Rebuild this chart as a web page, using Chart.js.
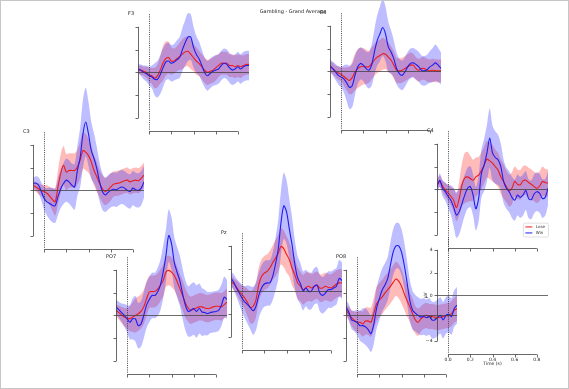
<!DOCTYPE html>
<html>
<head>
<meta charset="utf-8">
<title>Gambling - Grand Average</title>
<script src="https://cdn.jsdelivr.net/npm/chart.js@4.4.1/dist/chart.umd.min.js"></script>
<style>
  html, body { margin: 0; padding: 0; background: #fff; }
  #fig { position: relative; width: 569px; height: 389px; overflow: hidden; background: #fff; }
  #fig canvas { position: absolute; }
  #frame { position: absolute; left: 0; top: 0; width: 567px; height: 387px; border: 1px solid #c6c6c6; pointer-events: none; }
</style>
</head>
<body>
<div id="fig">
  <canvas id="title-canvas" width="569" height="389" style="left:0;top:0;width:569px;height:389px"></canvas>
  <div id="frame"></div>
</div>
<script>
// ── DATA ──────────────────────────────────
// time (s), one sample every 25 ms
const times = [-0.1, -0.075, -0.05, -0.025, 0, 0.025, 0.05, 0.075, 0.1, 0.125,
  0.15, 0.175, 0.2, 0.225, 0.25, 0.275, 0.3, 0.325, 0.35, 0.375,
  0.4, 0.425, 0.45, 0.475, 0.5, 0.525, 0.55, 0.575, 0.6, 0.625,
  0.65, 0.675, 0.7, 0.725, 0.75, 0.775, 0.8, 0.825, 0.85, 0.875, 0.9];

const conditions = ['Lose', 'Win'];
const yTicks = [-4, -2, 0, 2, 4];
const yTickLabels = ['\u22124', '\u22122', '0', '2', '4'];
const xTicks = [0, 0.2, 0.4, 0.6, 0.8];
const xTickLabels = ['0.0', '0.2', '0.4', '0.6', '0.8'];

// mean (µV) and half-width of the shaded band, per channel and condition
const f3Lose = [0.2,0.2,0.1,0.0,-0.2,-0.3,-0.5,-0.3,0.2,0.8,1.2,1.3,1.0,1.0,1.2,1.4,1.6,1.8,1.85,1.6,1.3,1.0,0.8,0.5,0.2,0.0,0.1,0.2,0.4,0.6,0.8,0.8,0.8,0.6,0.6,0.5,0.6,0.5,0.6,0.7,0.7];
const f3LoseErr = [0.3,0.4,0.4,0.5,0.6,0.7,0.9,1.0,1.2,1.5,1.5,1.4,1.2,1.1,1.1,1.2,1.3,1.3,1.3,1.3,1.2,1.2,1.1,1.1,1.1,1.1,1.1,1.1,1.1,1.0,1.0,1.0,1.0,1.0,1.0,1.0,1.0,1.0,0.9,0.9,0.9];
const f3Win = [0.3,0.2,0.0,-0.1,-0.3,-0.4,-0.6,-0.6,-0.2,0.4,0.9,1.0,0.8,0.9,1.1,1.3,2.0,2.6,3.1,3.1,2.2,1.6,1.2,0.6,0.0,-0.3,-0.1,0.1,0.2,0.3,0.6,0.8,0.7,0.4,0.2,0.3,0.5,0.3,0.5,0.6,0.6];
const f3WinErr = [0.4,0.5,0.6,0.7,0.8,1.0,1.4,1.6,1.7,1.7,1.6,1.6,1.6,1.6,1.7,1.8,1.9,2.0,2.1,2.0,1.8,1.6,1.5,1.4,1.3,1.3,1.3,1.3,1.3,1.3,1.3,1.3,1.3,1.3,1.3,1.3,1.3,1.3,1.3,1.3,1.3];

const f4Lose = [0.4,0.25,0,-0.15,-0.25,-0.45,-0.65,-0.8,-0.55,-0.05,0.25,0.4,0.45,0.4,0.4,0.7,1.0,1.25,1.4,1.55,1.5,1.25,1.0,0.55,0.1,0.05,0.1,0.25,0.4,0.55,0.55,0.25,0.1,0.25,0.25,0.1,0.05,0.1,0.05,0.05,0.05];
const f4LoseErr = [0.4,0.5,0.5,0.6,0.6,0.8,1.0,1.2,1.4,1.6,1.7,1.7,1.6,1.5,1.4,1.4,1.4,1.4,1.4,1.4,1.3,1.3,1.2,1.2,1.1,1.1,1.1,1.1,1.1,1.1,1.0,1.0,1.0,1.0,1.0,1.0,1.0,1.0,1.0,1.0,1.0];
const f4Win = [0.5,0.25,-0.05,-0.35,-0.5,-0.65,-1.0,-1.4,-1.25,-0.35,0.4,0.7,0.55,0.25,0.1,0.55,1.7,2.7,3.3,3.85,3.3,2.15,1.7,1.1,0.25,-0.2,-0.35,-0.05,0.4,0.7,0.75,0.6,0.4,0.1,0.05,0.15,0.4,0.55,0.75,0.55,0.25];
const f4WinErr = [0.5,0.6,0.7,0.8,0.9,1.2,1.6,1.9,1.9,1.7,1.5,1.4,1.4,1.5,1.6,1.8,2.0,2.2,2.4,2.5,2.4,2.2,1.9,1.6,1.4,1.3,1.3,1.3,1.3,1.3,1.3,1.3,1.3,1.3,1.3,1.3,1.4,1.5,1.6,1.5,1.4];

const c3Lose = [0.45,0.3,0.15,0,-0.1,-0.25,-0.5,-0.8,-1.0,0.3,1.5,2.2,1.6,1.75,1.75,1.75,2.05,2.65,3.5,3.35,3.05,2.5,1.75,1.2,0.6,0.15,-0.1,0.05,0.3,0.55,0.6,0.65,0.75,0.85,0.9,0.75,0.85,0.9,0.85,1.05,1.35];
const c3LoseErr = [0.4,0.4,0.5,0.5,0.6,0.7,0.8,1.0,1.2,1.5,1.7,1.7,1.6,1.5,1.5,1.5,1.5,1.6,1.6,1.6,1.5,1.4,1.3,1.3,1.2,1.2,1.2,1.2,1.2,1.1,1.1,1.1,1.1,1.1,1.1,1.1,1.1,1.1,1.1,1.1,1.1];
const c3Win = [0.6,0.65,0.45,-0.1,-0.7,-1.0,-1.15,-1.3,-1.35,-0.55,0.15,0.6,0.9,0.75,0.45,0.3,1.75,2.9,4.95,6.0,4.95,3.5,2.8,1.9,0.75,-0.1,-0.4,-0.2,0,0.1,0.05,0.2,0.3,0.2,0,-0.1,0.2,0.05,0,0.2,0.75];
const c3WinErr = [0.5,0.6,0.7,0.8,1.0,1.2,1.4,1.5,1.5,1.6,1.7,1.8,1.9,1.9,1.9,2.0,2.2,2.6,3.0,3.0,2.8,2.5,2.2,1.9,1.7,1.6,1.5,1.5,1.5,1.5,1.5,1.5,1.5,1.5,1.5,1.5,1.5,1.5,1.5,1.5,1.4];

const c4Lose = [0.4,0.7,0.3,-0.05,-0.3,-0.6,-0.95,-1.6,-0.8,0.4,1.0,1.1,0.95,0.8,1.1,1.25,1.65,2.15,2.65,2.5,2.3,2.0,1.7,1.1,0.7,0.25,-0.1,0.1,0.7,0.45,0.4,0.75,0.8,0.6,0.45,0.25,0.1,0.3,0.7,0.6,0.55];
const c4LoseErr = [0.4,0.5,0.5,0.6,0.7,0.8,1.0,1.2,1.5,1.9,2.2,2.2,2.0,1.8,1.7,1.6,1.6,1.6,1.6,1.6,1.6,1.5,1.5,1.5,1.5,1.4,1.4,1.4,1.3,1.3,1.3,1.3,1.3,1.3,1.3,1.3,1.3,1.3,1.3,1.2,1.2];
const c4Win = [0.25,0.8,0.1,-0.2,-0.6,-0.95,-1.55,-2.25,-1.95,-1.25,-0.5,0.1,0.25,-0.5,-1.7,-0.8,1.4,2.15,3.2,4.5,3.2,2.8,2.6,2.0,0.7,0.1,-0.2,-0.7,-0.95,-0.5,-0.7,-0.5,-0.1,-0.8,-0.9,-0.4,-0.2,-0.35,-0.8,-0.7,0.1];
const c4WinErr = [0.5,0.6,0.7,0.8,1.0,1.3,1.7,2.0,2.0,1.9,1.8,1.8,1.8,1.8,1.9,2.0,2.1,2.3,2.5,2.6,2.4,2.3,2.2,2.0,1.9,1.8,1.8,1.8,1.8,1.8,1.8,1.8,1.7,1.7,1.7,1.7,1.7,1.7,1.7,1.6,1.5];

const po7Lose = [0.45,0.25,0.05,-0.15,-0.25,-0.3,-0.15,0,0.15,0.35,0.75,1.45,2.05,2.1,2.1,2.3,2.65,3.05,3.8,3.95,3.8,3.5,3.0,2.35,1.75,1.1,0.65,0.45,0.55,0.65,0.75,0.75,0.65,0.6,0.65,0.75,0.8,0.8,0.75,0.95,1.15];
const po7LoseErr = [0.5,0.6,0.7,0.8,0.9,1.1,1.3,1.5,1.5,1.5,1.5,1.5,1.4,1.4,1.4,1.4,1.4,1.4,1.3,1.3,1.3,1.3,1.3,1.3,1.3,1.3,1.2,1.2,1.2,1.2,1.2,1.2,1.2,1.2,1.2,1.2,1.2,1.2,1.2,1.2,1.2];
const po7Win = [0.75,0.5,0.25,0,-0.3,-0.6,-0.3,-0.3,-0.9,-0.75,0,0.9,1.4,1.75,1.75,2.05,2.65,3.8,5.25,7.0,6.3,4.65,3.8,3.05,1.9,0.9,0.35,0.45,0.6,0.35,0.6,0.3,0.25,0.15,0.25,0.3,0.35,0.45,0.9,1.6,1.4];
const po7WinErr = [0.6,0.7,0.8,1.0,1.2,1.5,1.8,2.0,2.0,2.0,2.0,2.0,2.0,2.0,2.0,2.1,2.2,2.3,2.3,2.3,2.3,2.2,2.2,2.2,2.2,2.2,2.2,2.3,2.3,2.3,2.2,2.1,2.0,1.9,1.8,1.8,1.8,1.8,1.8,1.8,1.7];

const pzLose = [0.9,0.65,0.35,0,-0.3,-0.6,-1.0,-1.4,-1.3,-0.75,0.6,1.3,1.6,1.75,2.05,2.5,2.9,3.35,3.95,3.75,3.25,2.8,2.05,1.45,0.75,0.45,0.15,0.35,0.45,0.3,0.45,0.55,0.3,0.3,0.45,0.35,0.3,0.45,0.65,0.75,0.75];
const pzLoseErr = [0.5,0.5,0.6,0.7,0.8,1.0,1.2,1.4,1.5,1.5,1.5,1.5,1.5,1.5,1.5,1.5,1.6,1.6,1.6,1.6,1.6,1.5,1.5,1.4,1.4,1.3,1.3,1.3,1.3,1.2,1.2,1.2,1.2,1.2,1.2,1.2,1.2,1.2,1.2,1.2,1.2];
const pzWin = [1.15,0.8,0.3,-0.15,-0.6,-0.95,-1.15,-1.45,-1.7,-1.3,-0.35,0.3,0.65,0.75,0.75,1.3,2.35,3.65,6.0,7.5,7.0,5.5,4.1,2.4,1.2,0.7,0.05,0.3,0,0.05,0.45,0.55,-0.15,-0.35,-0.15,0.15,0.15,0.3,0.45,1.15,0.95];
const pzWinErr = [0.6,0.7,0.8,1.0,1.2,1.4,1.7,1.9,2.1,2.1,2.0,2.0,2.0,2.0,2.0,2.1,2.3,2.6,2.8,2.9,2.8,2.6,2.4,2.1,1.9,1.8,1.7,1.6,1.6,1.6,1.6,1.6,1.6,1.6,1.6,1.6,1.6,1.6,1.6,1.6,1.6];

const po8Lose = [0.45,0.15,-0.2,-0.45,-0.6,-0.6,-0.75,-0.5,-0.5,-0.6,0.15,1.0,1.35,1.6,1.95,2.25,2.55,2.9,3.2,3.0,2.55,1.9,1.3,0.75,0.15,-0.4,-0.6,-0.3,-0.1,0,-0.1,-0.1,-0.15,-0.2,-0.15,-0.1,-0.03,0,0.15,0.45,0.6];
const po8LoseErr = [0.5,0.6,0.7,0.8,0.9,1.0,1.1,1.2,1.2,1.3,1.4,1.5,1.5,1.5,1.5,1.5,1.5,1.5,1.5,1.5,1.5,1.4,1.4,1.3,1.3,1.2,1.2,1.1,1.1,1.1,1.1,1.1,1.1,1.1,1.1,1.1,1.1,1.1,1.1,1.1,1.1];
const po8Win = [0.75,0.3,-0.4,-0.5,-0.6,-0.9,-0.9,-1.0,-1.25,-1.6,-0.8,0.6,1.45,2.2,2.65,3.2,4.4,5.55,6.1,6.1,5.55,4.4,2.9,1.3,0.45,0.2,0,-0.15,-0.1,-0.2,-0.1,-0.4,-0.4,-0.2,0,-0.4,0,0.1,-0.1,0.6,0.9];
const po8WinErr = [0.6,0.7,0.8,0.9,1.1,1.3,1.5,1.6,1.6,1.6,1.7,1.8,1.9,1.9,1.9,1.9,2.0,2.0,2.0,2.0,2.0,2.0,1.9,1.8,1.7,1.6,1.6,1.6,1.6,1.6,1.6,1.6,1.6,1.6,1.6,1.6,1.6,1.6,1.6,1.6,1.6];


// ── LAYOUT ────────────────────────────────
// x0/y0 = page pixel of t = 0 s and 0 µV for each axes
const panels = [
  { name: 'F3',  x0: 149,   y0: 72.7,  lose: f3Lose,  loseErr: f3LoseErr,  win: f3Win,  winErr: f3WinErr },
  { name: 'F4',  x0: 340.7, y0: 71,    lose: f4Lose,  loseErr: f4LoseErr,  win: f4Win,  winErr: f4WinErr },
  { name: 'C3',  x0: 44,    y0: 190.3, lose: c3Lose,  loseErr: c3LoseErr,  win: c3Win,  winErr: c3WinErr },
  { name: 'C4',  x0: 447.7, y0: 189.3, lose: c4Lose,  loseErr: c4LoseErr,  win: c4Win,  winErr: c4WinErr, legend: true },
  { name: 'PO7', x0: 126.7, y0: 315,   lose: po7Lose, loseErr: po7LoseErr, win: po7Win, winErr: po7WinErr },
  { name: 'Pz',  x0: 241.7, y0: 291.7, lose: pzLose,  loseErr: pzLoseErr,  win: pzWin,  winErr: pzWinErr },
  { name: 'PO8', x0: 356.7, y0: 315,   lose: po8Lose, loseErr: po8LoseErr, win: po8Win, winErr: po8WinErr },
  { name: '',    x0: 447.7, y0: 295.7, scaleAxes: true }
];

const X_MIN = -0.1, X_MAX = 0.9;
const Y_MIN = -9, Y_MAX = 11;      // room for the bands
const AX_LIM = 5.1;                // visible axes limit (µV)
const PX_PER_S = 111, PX_PER_UV = 11.4;
const PAD = { left: 30, right: 6, top: 4, bottom: 4 };

const FONT = '"DejaVu Sans", "Liberation Sans", sans-serif';
const COLORS = {
  Lose: { line: 'rgb(238,28,28)', band: 'rgba(255,40,40,0.32)' },
  Win:  { line: 'rgb(30,30,240)', band: 'rgba(50,50,255,0.32)' }
};


// ── AXES DECORATION PLUGIN ────────────────
// trimmed spines, zero line, stimulus-onset line, labels
const axesDeco = {
  id: 'axesDeco',
  afterDatasetsDraw(chart, args, opts) {
    const ctx = chart.ctx;
    const px = v => chart.scales.x.getPixelForValue(v);
    const py = v => chart.scales.y.getPixelForValue(v);
    const r = v => Math.round(v) + 0.5;
    const left = px(X_MIN), right = px(X_MAX);
    const top = py(AX_LIM), bottom = py(-AX_LIM);

    ctx.save();

    // zero line
    ctx.strokeStyle = 'rgba(60,60,60,0.75)';
    ctx.lineWidth = 1;
    ctx.beginPath();
    ctx.moveTo(left, r(py(0)));
    ctx.lineTo(right, r(py(0)));
    ctx.stroke();

    // stimulus onset (dotted)
    ctx.strokeStyle = '#333';
    ctx.lineWidth = 0.9;
    ctx.setLineDash([1, 1.2]);
    ctx.beginPath();
    ctx.moveTo(r(px(0)), top);
    ctx.lineTo(r(px(0)), bottom);
    ctx.stroke();
    ctx.setLineDash([]);

    // left spine, trimmed to the ticks
    ctx.strokeStyle = '#444';
    ctx.lineWidth = 0.8;
    ctx.beginPath();
    ctx.moveTo(r(left), py(yTicks[0]));
    ctx.lineTo(r(left), py(yTicks[yTicks.length - 1]));
    yTicks.forEach(v => {
      ctx.moveTo(r(left), r(py(v)));
      ctx.lineTo(r(left) - 3, r(py(v)));
    });
    // bottom spine, trimmed to the ticks
    ctx.moveTo(px(xTicks[0]), r(bottom));
    ctx.lineTo(px(xTicks[xTicks.length - 1]), r(bottom));
    xTicks.forEach(t => {
      ctx.moveTo(r(px(t)), r(bottom));
      ctx.lineTo(r(px(t)), r(bottom) + 3);
    });
    ctx.stroke();

    ctx.fillStyle = '#222';

    // channel name
    if (opts.name) {
      ctx.font = '5px ' + FONT;
      ctx.textAlign = 'left';
      ctx.textBaseline = 'middle';
      ctx.fillText(opts.name, left - 10, top - 0.8);
    }

    // tick labels only on the scale axes
    if (opts.scaleAxes) {
      ctx.font = '4.5px ' + FONT;
      ctx.textAlign = 'right';
      ctx.textBaseline = 'middle';
      yTicks.forEach((v, i) => ctx.fillText(yTickLabels[i], left - 4.5, py(v)));
      ctx.textAlign = 'center';
      ctx.textBaseline = 'top';
      xTicks.forEach((t, i) => ctx.fillText(xTickLabels[i], px(t), bottom + 4.5));
      ctx.fillText('Time (s)', px(0.4), bottom + 8);
      ctx.save();
      ctx.translate(left - 11.5, py(0));
      ctx.rotate(-Math.PI / 2);
      ctx.textBaseline = 'middle';
      ctx.fillText('\u00b5V', 0, 0);
      ctx.restore();
    }

    // legend box
    if (opts.legend) {
      const bx = px(0.678), by = py(-2.96);
      const bw = px(0.904) - bx, bh = py(-4.18) - by;
      ctx.fillStyle = 'rgba(255,255,255,0.85)';
      ctx.strokeStyle = '#d8d8d8';
      ctx.lineWidth = 0.8;
      ctx.beginPath();
      ctx.roundRect(bx, by, bw, bh, 1.5);
      ctx.fill();
      ctx.stroke();
      ctx.font = '4px ' + FONT;
      ctx.textAlign = 'left';
      ctx.textBaseline = 'middle';
      conditions.forEach((c, i) => {
        const ly = by + 3.8 + i * 6;
        ctx.strokeStyle = COLORS[c].line;
        ctx.lineWidth = 1;
        ctx.beginPath();
        ctx.moveTo(bx + 2, ly);
        ctx.lineTo(bx + 9, ly);
        ctx.stroke();
        ctx.fillStyle = '#333';
        ctx.fillText(c, bx + 12.5, ly);
      });
    }

    ctx.restore();
  }
};


// ── BUILD ONE PANEL ───────────────────────
function points(values, err, sign) {
  return times.map((t, i) => ({ x: t, y: values[i] + sign * (err ? err[i] : 0) }));
}

function renderPanel(p) {
  const width = PAD.left + PAD.right + (X_MAX - X_MIN) * PX_PER_S;
  const height = PAD.top + PAD.bottom + (Y_MAX - Y_MIN) * PX_PER_UV;
  const canvas = document.createElement('canvas');
  canvas.width = Math.round(width);
  canvas.height = Math.round(height);
  canvas.style.width = canvas.width + 'px';
  canvas.style.height = canvas.height + 'px';
  // place so that (0 s, 0 µV) lands on the measured pixel
  const originX = PAD.left + (0 - X_MIN) * PX_PER_S;
  const originY = PAD.top + Y_MAX * PX_PER_UV;
  canvas.style.left = (p.x0 - originX) + 'px';
  canvas.style.top = (p.y0 - originY) + 'px';
  document.getElementById('fig').insertBefore(canvas, document.getElementById('frame'));

  const datasets = [];
  if (!p.scaleAxes) {
    const series = { Lose: [p.lose, p.loseErr], Win: [p.win, p.winErr] };
    let order = 20;
    // bands first (underneath), then the mean lines
    conditions.forEach(c => {
      const [m, e] = series[c];
      datasets.push({
        label: c + ' upper', data: points(m, e, 1),
        borderColor: 'transparent', borderWidth: 0, pointRadius: 0,
        backgroundColor: COLORS[c].band, fill: '+1', tension: 0.3, order: order--
      });
      datasets.push({
        label: c + ' lower', data: points(m, e, -1),
        borderColor: 'transparent', borderWidth: 0, pointRadius: 0,
        fill: false, tension: 0.3, order: order--
      });
    });
    conditions.forEach(c => {
      const [m] = series[c];
      datasets.push({
        label: c, data: points(m, null, 0),
        borderColor: COLORS[c].line, borderWidth: 1.1, pointRadius: 0,
        fill: false, tension: 0.3, order: order--
      });
    });
  }

  return new Chart(canvas, {
    type: 'line',
    data: { datasets },
    options: {
      responsive: false,
      animation: false,
      events: [],
      layout: { padding: PAD },
      scales: {
        x: { type: 'linear', min: X_MIN, max: X_MAX, display: false },
        y: { type: 'linear', min: Y_MIN, max: Y_MAX, display: false }
      },
      plugins: {
        legend: { display: false },
        tooltip: { enabled: false },
        axesDeco: { name: p.name, legend: !!p.legend, scaleAxes: !!p.scaleAxes }
      }
    },
    plugins: [axesDeco]
  });
}

panels.forEach(renderPanel);


// ── FIGURE TITLE ──────────────────────────
const tctx = document.getElementById('title-canvas').getContext('2d');
tctx.fillStyle = '#222';
tctx.font = '5px ' + FONT;
tctx.textAlign = 'center';
tctx.textBaseline = 'middle';
tctx.fillText('Gambling - Grand Average', 293, 11.5);
</script>
</body>
</html>
